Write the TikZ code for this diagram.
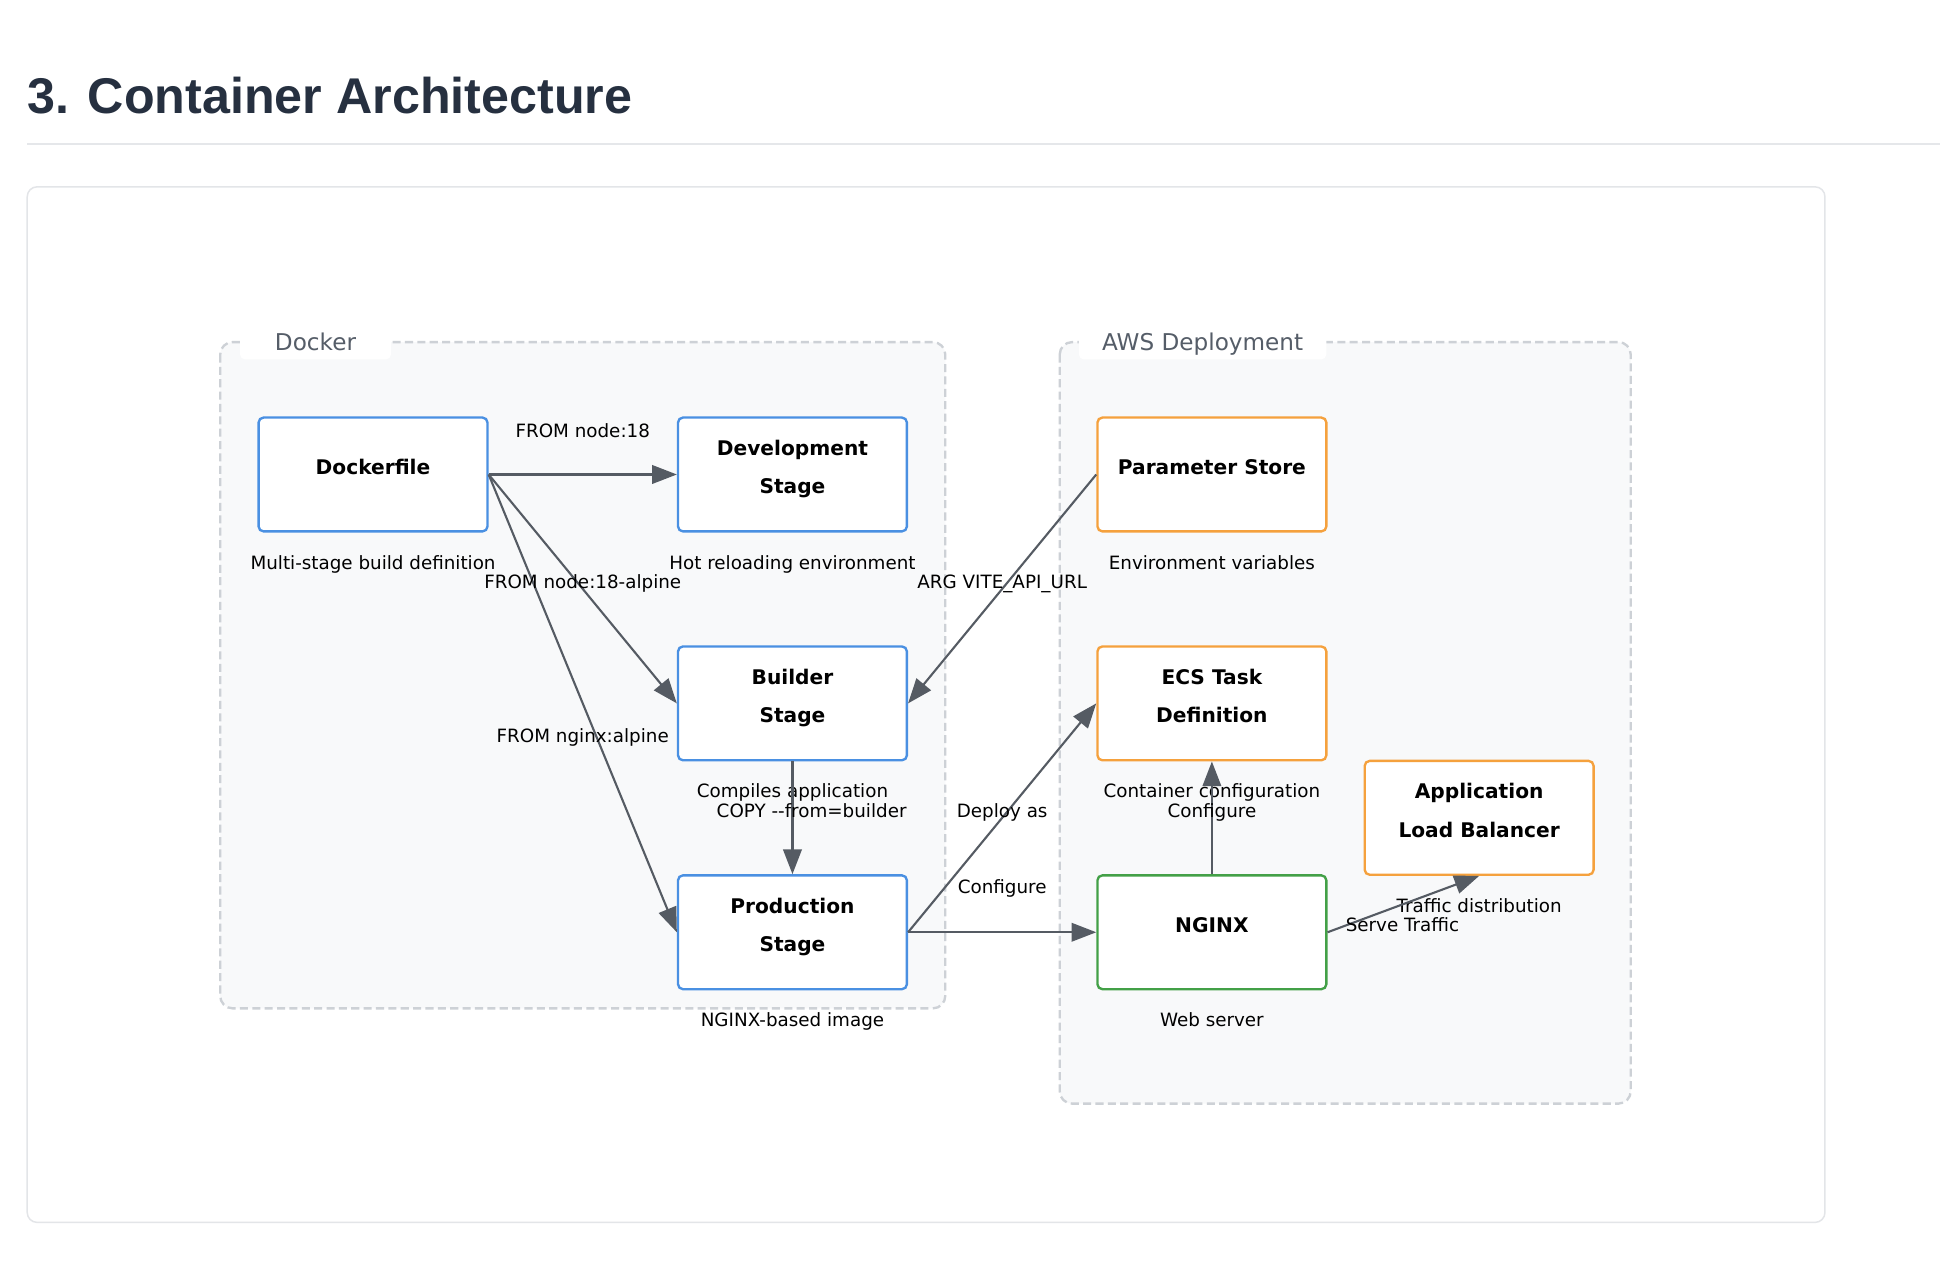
\documentclass[tikz,border=0pt]{standalone}
\usepackage{fontspec}
\setmainfont{DejaVu Sans}
\newfontfamily\titlefont{Liberation Sans}
\usetikzlibrary{arrows.meta}
\definecolor{edgec}{HTML}{555B63}
\definecolor{blueb}{HTML}{4A90E2}
\definecolor{orangeb}{HTML}{F5A13D}
\definecolor{greenb}{HTML}{43A047}
\definecolor{clfill}{HTML}{F8F9FA}
\definecolor{cldash}{HTML}{CDD1D6}
\definecolor{titlec}{HTML}{263040}
\definecolor{cltext}{HTML}{555D68}
\definecolor{rulec}{HTML}{E5E7EA}
\definecolor{outerc}{HTML}{E3E5E8}
\begin{document}
\begin{tikzpicture}[x=1pt,y=-1pt,
  box/.style={draw, line width=1.9pt, rounded corners=4pt, fill=white, minimum width=185pt, minimum height=92pt, inner sep=0pt},
  bluebox/.style={box, draw=blueb},
  orangebox/.style={box, draw=orangeb},
  greenbox/.style={box, draw=greenb},
  boxtext/.style={font=\fontsize{16.3}{20}\selectfont\bfseries, anchor=base, inner sep=0pt},
  sub/.style={font=\fontsize{14.8}{18}\selectfont, anchor=base, inner sep=0pt},
  cluster/.style={draw=cldash, dash pattern=on 6.5pt off 3.5pt, line width=1.9pt, fill=clfill, rounded corners=10pt},
  cllabelbox/.style={fill=white, rounded corners=4pt, minimum height=28pt, inner sep=0pt},
  cllabel/.style={font=\fontsize{18.7}{22}\selectfont, text=cltext, anchor=base, inner sep=0pt},
  edge/.style={draw=edgec, line width=1.7pt, -{Triangle[length=20pt,width=15pt]}},
]
\useasboundingbox (0,0) rectangle (1568,1037.8);
\fill[white] (0,0) rectangle (1568,1037.8);

% title and rule
\node[anchor=base west, inner sep=0pt, text=titlec, font=\titlefont\fontsize{40.6}{48}\selectfont\bfseries] (title) at (22,91.6) {3. Container Architecture};
\draw[rulec, line width=1.5pt] (22,116.4) -- (1568,116.4);

% outer container
\draw[outerc, line width=1.2pt, rounded corners=8pt, fill=white] (22,151) rectangle (1475,988);

% clusters
\draw[cluster] (178,276.5) rectangle (764,815);
\draw[cluster] (856.5,276.5) rectangle (1318,892);
\node[cllabelbox, minimum width=122pt] (dockerbox) at (255,276.5) {};
\node[cllabel] (dockerlbl) at (255,283.4) {Docker};
\node[cllabelbox, minimum width=200pt] (awsbox) at (972,276.5) {};
\node[cllabel] (awslbl) at (972,283.4) {AWS Deployment};

% nodes
\node[bluebox] (dock) at (301.5,383.5) {};
\node[bluebox] (dev) at (640.5,383.5) {};
\node[bluebox] (build) at (640.5,568.5) {};
\node[bluebox] (prod) at (640.5,753.5) {};
\node[orangebox] (param) at (979.5,383.5) {};
\node[orangebox] (ecs) at (979.5,568.5) {};
\node[orangebox] (alb) at (1195.5,661) {};
\node[greenbox] (nginx) at (979.5,753.5) {};

% node texts
\node[boxtext] (dockt) at (301.5,383.5) {Dockerfile};
\node[boxtext] (devt1) at (640.5,368) {Development};
\node[boxtext] (devt2) at (640.5,399) {Stage};
\node[boxtext] (buildt1) at (640.5,553) {Builder};
\node[boxtext] (buildt2) at (640.5,584) {Stage};
\node[boxtext] (prodt1) at (640.5,738) {Production};
\node[boxtext] (prodt2) at (640.5,769) {Stage};
\node[boxtext] (paramt) at (979.5,383.5) {Parameter Store};
\node[boxtext] (ecst1) at (979.5,553) {ECS Task};
\node[boxtext] (ecst2) at (979.5,584) {Definition};
\node[boxtext] (albt1) at (1195.5,645.5) {Application};
\node[boxtext] (albt2) at (1195.5,676.5) {Load Balancer};
\node[boxtext] (nginxt) at (979.5,753.5) {NGINX};

% sublabels
\node[sub] (docks) at (301.5,460) {Multi-stage build definition};
\node[sub] (devs) at (640.5,460) {Hot reloading environment};
\node[sub] (builds) at (640.5,644.5) {Compiles application};
\node[sub] (prods) at (640.5,829.5) {NGINX-based image};
\node[sub] (params) at (979.5,460) {Environment variables};
\node[sub] (ecss) at (979.5,644.5) {Container configuration};
\node[sub] (albs) at (1195.5,737.5) {Traffic distribution};
\node[sub] (nginxs) at (979.5,829.5) {Web server};

% edges
\draw[edge] (dock.east) -- (dev.west);
\draw[edge] (dock.east) -- (build.west);
\draw[edge] (dock.east) -- (prod.west);
\draw[edge] (param.west) -- (build.east);
\draw[edge] (build.south) -- (prod.north);
\draw[edge] (prod.east) -- (ecs.west);
\draw[edge] (prod.east) -- (nginx.west);
\draw[edge] (nginx.north) -- (ecs.south);
\draw[edge] (nginx.east) -- (alb.south);

% edge labels
\node[sub] (l1) at (471,353.5) {FROM node:18};
\node[sub] (l2) at (471,476) {FROM node:18-alpine};
\node[sub] (l3) at (471,600) {FROM nginx:alpine};
\node[sub] (l4) at (810,476) {ARG VITE\_API\_URL};
\node[sub] (l5) at (656,660.7) {COPY -{}-from=builder};
\node[sub] (l6) at (810,660.7) {Deploy as};
\node[sub] (l7) at (810,722) {Configure};
\node[sub] (l8) at (979.5,660.7) {Configure};
\node[sub] (l9) at (1133.5,753) {Serve Traffic};
\end{tikzpicture}
\end{document}
